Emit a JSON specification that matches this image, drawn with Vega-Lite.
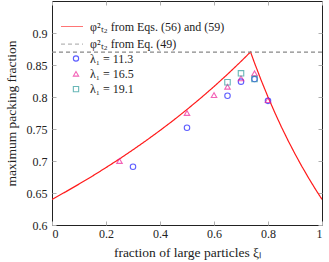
{
  "$schema": "https://vega.github.io/schema/vega-lite/v6.json",
  "width": 270,
  "height": 224,
  "autosize": {"type": "none"},
  "padding": {"left": 52, "top": 1, "right": 7, "bottom": 37},
  "background": "white",
  "config": {
    "font": "Liberation Serif",
    "view": {"stroke": "#222", "strokeWidth": 1},
    "axis": {
      "labelFont": "Liberation Serif",
      "labelFontSize": 12,
      "labelColor": "#222",
      "titleFont": "Liberation Serif",
      "titleFontSize": 13.5,
      "titleFontWeight": "normal",
      "titleColor": "#222",
      "tickColor": "#b0b0b0",
      "tickSize": -4,
      "domain": false,
      "grid": false
    },
    "legend": {
      "labelFont": "Liberation Serif",
      "labelFontSize": 12,
      "labelColor": "#222",
      "padding": 0
    }
  },
  "datasets": {
    "curves": [
      {"c": "φ²ₜ₂ from Eqs. (56) and (59)", "x": 0, "y": 0.64},
      {"c": "φ²ₜ₂ from Eqs. (56) and (59)", "x": 0.05, "y": 0.6517},
      {"c": "φ²ₜ₂ from Eqs. (56) and (59)", "x": 0.1, "y": 0.6639},
      {"c": "φ²ₜ₂ from Eqs. (56) and (59)", "x": 0.15, "y": 0.6765},
      {"c": "φ²ₜ₂ from Eqs. (56) and (59)", "x": 0.2, "y": 0.6897},
      {"c": "φ²ₜ₂ from Eqs. (56) and (59)", "x": 0.25, "y": 0.7033},
      {"c": "φ²ₜ₂ from Eqs. (56) and (59)", "x": 0.3, "y": 0.7175},
      {"c": "φ²ₜ₂ from Eqs. (56) and (59)", "x": 0.35, "y": 0.7323},
      {"c": "φ²ₜ₂ from Eqs. (56) and (59)", "x": 0.4, "y": 0.7477},
      {"c": "φ²ₜ₂ from Eqs. (56) and (59)", "x": 0.45, "y": 0.7637},
      {"c": "φ²ₜ₂ from Eqs. (56) and (59)", "x": 0.5, "y": 0.7805},
      {"c": "φ²ₜ₂ from Eqs. (56) and (59)", "x": 0.55, "y": 0.798},
      {"c": "φ²ₜ₂ from Eqs. (56) and (59)", "x": 0.6, "y": 0.8163},
      {"c": "φ²ₜ₂ from Eqs. (56) and (59)", "x": 0.65, "y": 0.8355},
      {"c": "φ²ₜ₂ from Eqs. (56) and (59)", "x": 0.7, "y": 0.8556},
      {"c": "φ²ₜ₂ from Eqs. (56) and (59)", "x": 0.7353, "y": 0.8704},
      {"c": "φ²ₜ₂ from Eqs. (56) and (59)", "x": 0.75, "y": 0.8533},
      {"c": "φ²ₜ₂ from Eqs. (56) and (59)", "x": 0.775, "y": 0.8258},
      {"c": "φ²ₜ₂ from Eqs. (56) and (59)", "x": 0.8, "y": 0.8},
      {"c": "φ²ₜ₂ from Eqs. (56) and (59)", "x": 0.825, "y": 0.7758},
      {"c": "φ²ₜ₂ from Eqs. (56) and (59)", "x": 0.85, "y": 0.7529},
      {"c": "φ²ₜ₂ from Eqs. (56) and (59)", "x": 0.875, "y": 0.7314},
      {"c": "φ²ₜ₂ from Eqs. (56) and (59)", "x": 0.9, "y": 0.7111},
      {"c": "φ²ₜ₂ from Eqs. (56) and (59)", "x": 0.925, "y": 0.6919},
      {"c": "φ²ₜ₂ from Eqs. (56) and (59)", "x": 0.95, "y": 0.6737},
      {"c": "φ²ₜ₂ from Eqs. (56) and (59)", "x": 0.975, "y": 0.6564},
      {"c": "φ²ₜ₂ from Eqs. (56) and (59)", "x": 1, "y": 0.64},
      {"c": "φ²ₜ₂ from Eq. (49)", "x": 0, "y": 0.87},
      {"c": "φ²ₜ₂ from Eq. (49)", "x": 1, "y": 0.87}
    ],
    "points": [
      {"s": "λ₁ = 11.3", "x": 0.3, "y": 0.691},
      {"s": "λ₁ = 11.3", "x": 0.5, "y": 0.752},
      {"s": "λ₁ = 11.3", "x": 0.65, "y": 0.802},
      {"s": "λ₁ = 11.3", "x": 0.7, "y": 0.824},
      {"s": "λ₁ = 11.3", "x": 0.75, "y": 0.828},
      {"s": "λ₁ = 11.3", "x": 0.8, "y": 0.794},
      {"s": "λ₁ = 16.5", "x": 0.25, "y": 0.7},
      {"s": "λ₁ = 16.5", "x": 0.5, "y": 0.775},
      {"s": "λ₁ = 16.5", "x": 0.6, "y": 0.803},
      {"s": "λ₁ = 16.5", "x": 0.65, "y": 0.816},
      {"s": "λ₁ = 16.5", "x": 0.7, "y": 0.829},
      {"s": "λ₁ = 16.5", "x": 0.75, "y": 0.837},
      {"s": "λ₁ = 16.5", "x": 0.8, "y": 0.795},
      {"s": "λ₁ = 19.1", "x": 0.65, "y": 0.823},
      {"s": "λ₁ = 19.1", "x": 0.7, "y": 0.837},
      {"s": "λ₁ = 19.1", "x": 0.75, "y": 0.828}
    ]
  },
  "layer": [
    {
      "data": {"name": "curves"},
      "mark": {"type": "line", "strokeWidth": 1.2, "clip": true},
      "encoding": {
        "x": {
          "field": "x", "type": "quantitative",
          "scale": {"domain": [0, 1], "nice": false, "zero": false},
          "axis": {"orient": "bottom", "values": [0, 0.2, 0.4, 0.6, 0.8, 1], "format": "~g", "labelPadding": 7, "title": "fraction of large particles ξₗ", "titlePadding": 6}
        },
        "y": {
          "field": "y", "type": "quantitative",
          "scale": {"domain": [0.6, 0.95], "nice": false, "zero": false},
          "axis": {"orient": "left", "values": [0.6, 0.65, 0.7, 0.75, 0.8, 0.85, 0.9], "format": "~g", "labelPadding": 9, "title": "maximum packing fraction", "titlePadding": 8}
        },
        "color": {
          "field": "c", "type": "nominal",
          "scale": {"domain": ["φ²ₜ₂ from Eqs. (56) and (59)", "φ²ₜ₂ from Eq. (49)"], "range": ["#ff1a1a", "#888888"]},
          "legend": {"title": null, "orient": "none", "legendX": 13.5, "legendY": 19, "symbolType": "M-2,0H2", "symbolSize": 121, "symbolStrokeWidth": 1.2, "symbolOpacity": 0.6, "labelOffset": 11.5, "rowPadding": 4.7}
        },
        "strokeDash": {
          "field": "c", "type": "nominal",
          "scale": {"domain": ["φ²ₜ₂ from Eqs. (56) and (59)", "φ²ₜ₂ from Eq. (49)"], "range": [[1, 0], [4, 3]]},
          "legend": {"title": null, "orient": "none", "legendX": 13.5, "legendY": 19, "symbolType": "M-2,0H2", "symbolSize": 121, "symbolStrokeWidth": 1.2, "symbolOpacity": 0.6, "labelOffset": 11.5, "rowPadding": 4.7}
        }
      }
    },
    {
      "data": {"name": "points"},
      "mark": {"type": "point", "filled": false, "strokeWidth": 1.1, "size": 30},
      "encoding": {
        "x": {
          "field": "x", "type": "quantitative",
          "axis": {"orient": "top", "values": [0, 0.2, 0.4, 0.6, 0.8, 1], "labels": false, "title": null}
        },
        "y": {
          "field": "y", "type": "quantitative",
          "axis": {"orient": "right", "values": [0.6, 0.65, 0.7, 0.75, 0.8, 0.85, 0.9], "labels": false, "title": null}
        },
        "color": {
          "field": "s", "type": "nominal",
          "scale": {"domain": ["λ₁ = 11.3", "λ₁ = 16.5", "λ₁ = 19.1"], "range": ["#1a1aff", "#ee2299", "#2a9a9a"]},
          "legend": {"title": null, "orient": "none", "legendX": 18, "legendY": 51.5, "symbolSize": 28, "symbolStrokeWidth": 1.1, "symbolFillColor": "transparent", "symbolOpacity": 0.7, "labelOffset": 8, "rowPadding": 3.3}
        },
        "shape": {
          "field": "s", "type": "nominal",
          "scale": {"domain": ["λ₁ = 11.3", "λ₁ = 16.5", "λ₁ = 19.1"], "range": ["circle", "triangle-up", "square"]},
          "legend": {"title": null, "orient": "none", "legendX": 18, "legendY": 51.5, "symbolSize": 28, "symbolStrokeWidth": 1.1, "symbolFillColor": "transparent", "symbolOpacity": 0.7, "labelOffset": 8, "rowPadding": 3.3}
        }
      }
    }
  ],
  "resolve": {
    "scale": {"color": "independent", "shape": "independent", "strokeDash": "independent"},
    "axis": {"x": "independent", "y": "independent"}
  }
}
